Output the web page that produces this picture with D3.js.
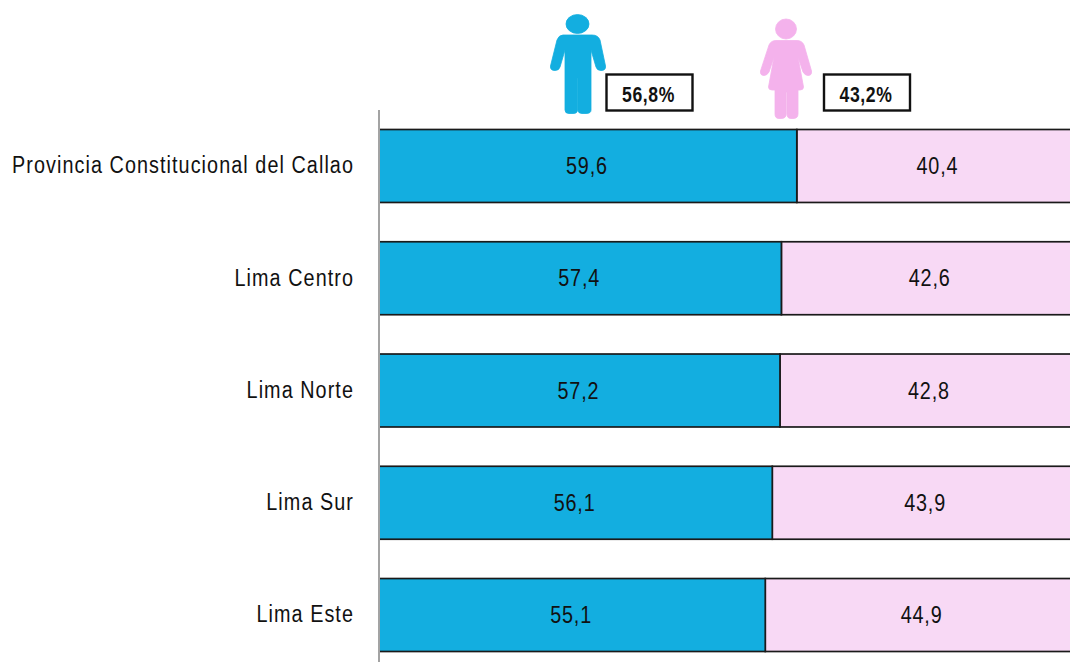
<!DOCTYPE html>
<html>
<head>
<meta charset="utf-8">
<script src="https://cdn.jsdelivr.net/npm/d3@7"></script>
<style>
  html, body { margin: 0; padding: 0; background: #fff; }
  svg { display: block; }
  text { font-family: "Liberation Sans", Arial, sans-serif; fill: #111; }
</style>
</head>
<body>
<svg width="1070" height="662"></svg>
<script>
"use strict";

var regions = ['Provincia Constitucional del Callao', 'Lima Centro', 'Lima Norte', 'Lima Sur', 'Lima Este'];
var hombres = [59.6, 57.4, 57.2, 56.1, 55.1];
var mujeres = [40.4, 42.6, 42.8, 43.9, 44.9];
var totals = ['56,8%', '43,2%'];

var blue = '#13aee0', pink = '#f8d9f5', pinkIcon = '#f4b2ec';
var squeeze = 0.86; // no narrow font here, so squash the text horizontally

var svg = d3.select('svg');

var xScale = d3.scaleLinear().domain([0, 100]).range([379, 1080]);
var yScale = d3.scaleBand().domain(regions).range([129.5, 651.5]).paddingInner(0.35);

function comma(v) { return v.toFixed(1).replace('.', ','); }

var rows = svg.selectAll('g.row')
    .data(regions)
    .enter()
    .append('g')
    .attr('class', 'row')
    .attr('transform', function (d) { return 'translate(0,' + yScale(d) + ')'; });

// mujeres first, so the blue bar's border sits on top
rows.append('rect')
    .attr('x', function (d, i) { return xScale(hombres[i]); })
    .attr('width', function (d, i) { return xScale(hombres[i] + mujeres[i]) - xScale(hombres[i]); })
    .attr('height', yScale.bandwidth())
    .style('fill', pink)
    .style('stroke', '#1a1a1a')
    .style('stroke-width', 1.7);

rows.append('rect')
    .attr('x', xScale(0))
    .attr('width', function (d, i) { return xScale(hombres[i]) - xScale(0); })
    .attr('height', yScale.bandwidth())
    .style('fill', blue)
    .style('stroke', '#1a1a1a')
    .style('stroke-width', 1.7);

rows.append('text')
    .attr('transform', 'scale(' + squeeze + ',1)')
    .attr('x', function (d, i) { return (xScale(hombres[i] / 2) - 1) / squeeze; })
    .attr('y', yScale.bandwidth() / 2)
    .attr('dy', '0.35em')
    .attr('text-anchor', 'middle')
    .style('font-size', '23px')
    .style('letter-spacing', '1px')
    .text(function (d, i) { return comma(hombres[i]); });

rows.append('text')
    .attr('transform', 'scale(' + squeeze + ',1)')
    .attr('x', function (d, i) { return (xScale(hombres[i] + mujeres[i] / 2) - 1) / squeeze; })
    .attr('y', yScale.bandwidth() / 2)
    .attr('dy', '0.35em')
    .attr('text-anchor', 'middle')
    .style('font-size', '23px')
    .style('letter-spacing', '1px')
    .text(function (d, i) { return comma(mujeres[i]); });

// category axis
var axis = svg.append('g')
    .attr('transform', 'translate(' + xScale(0) + ',0)')
    .call(d3.axisLeft(yScale).tickSize(0).tickPadding(26));
axis.select('.domain').remove();
axis.attr('font-family', null);
axis.selectAll('text')
    .attr('transform', 'scale(' + squeeze + ',1)')
    .attr('x', -25 / squeeze)
    .style('font-size', '23px')
    .style('letter-spacing', '1.25px')
    .style('fill', '#111');

svg.append('line')
    .attr('x1', xScale(0)).attr('x2', xScale(0))
    .attr('y1', 110).attr('y2', 662)
    .style('stroke', '#a3a3a3')
    .style('stroke-width', 2);

// pictograms
var man = svg.append('g').style('fill', blue).style('stroke', blue).style('stroke-width', 0.8);
man.append('ellipse').attr('cx', 577.5).attr('cy', 24).attr('rx', 11.5).attr('ry', 9.5);
man.append('path').attr('d',
    'M563 35 L592 35 Q598 35 600 40 L605.5 66 Q606 70.5 601 70.5 Q597 70.5 596 67 L591 50 ' +
    'L591 110 Q591 113.5 586 113.5 L582 113.5 Q578 113.5 578 110 L578 78 L577.5 78 L577.5 110 ' +
    'Q577.5 113.5 573 113.5 L569 113.5 Q565 113.5 565 110 L565 50 L560 67 Q559 70.5 555 70.5 Q550 70.5 550.5 66 ' +
    'L557 40 Q559 35 563 35 Z');

var woman = svg.append('g').style('fill', pinkIcon).style('stroke', pinkIcon).style('stroke-width', 0.8);
woman.append('ellipse').attr('cx', 786).attr('cy', 29).attr('rx', 10.5).attr('ry', 10);
woman.append('path').attr('d',
    'M776 40.5 L797 40.5 Q802 40.5 804 45 L811.5 71 Q812 75.5 808 75.5 Q805 75.5 803 72 L798 57 ' +
    'L803.5 87 Q803.5 90 800 90 L798 90 L798 114 Q798 118.5 793 118.5 L791 118.5 Q787 118.5 787 114 L787 92 ' +
    'L786.2 92 L786.2 114 Q786.2 118.5 781 118.5 L779 118.5 Q775 118.5 775 114 L775 90 L772 90 Q768.5 90 768.5 87 ' +
    'L774 57 L769 72 Q767 75.5 764 75.5 Q760 75.5 760.5 71 L769 45 Q771 40.5 776 40.5 Z');

// total boxes
var boxX = [606.5, 824];
var boxes = svg.selectAll('g.total')
    .data(totals)
    .enter()
    .append('g')
    .attr('class', 'total')
    .attr('transform', function (d, i) { return 'translate(' + boxX[i] + ',74.5)'; });

boxes.append('rect')
    .attr('width', 86)
    .attr('height', 36)
    .style('fill', '#fff')
    .style('stroke', '#111')
    .style('stroke-width', 2.4);

boxes.append('text')
    .attr('transform', 'scale(0.8,1)')
    .attr('x', 42 / 0.8)
    .attr('y', 20)
    .attr('dy', '0.35em')
    .attr('text-anchor', 'middle')
    .style('font-size', '22px')
    .style('font-weight', 'bold')
    .style('letter-spacing', '0.8px')
    .text(function (d) { return d; });
</script>
</body>
</html>
